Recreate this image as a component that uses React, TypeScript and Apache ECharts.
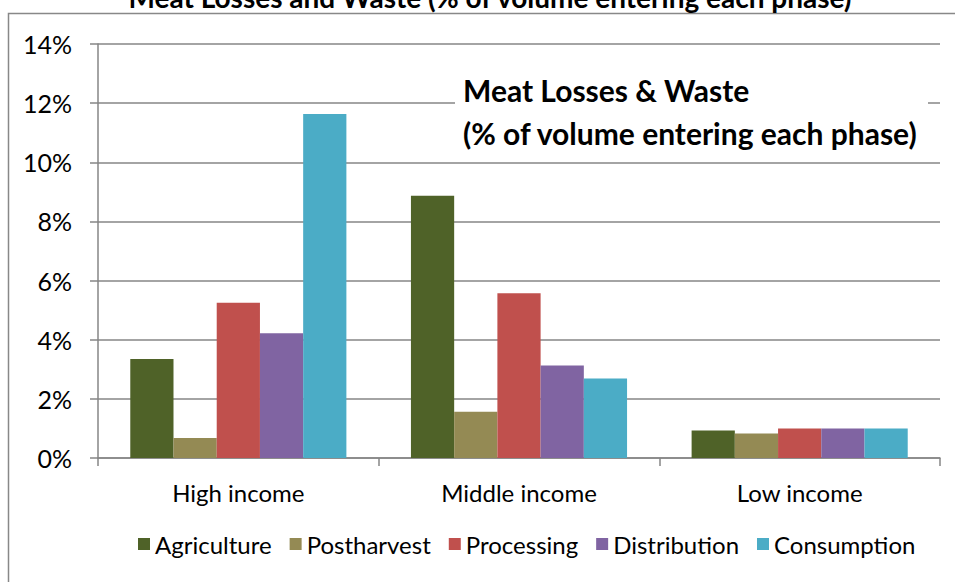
import React, { useEffect, useRef } from "react";
import * as echarts from "echarts";

const categories = ["High income", "Middle income", "Low income"];
const seriesNames = ["Agriculture", "Postharvest", "Processing", "Distribution", "Consumption"];
const agriculture = [3.35, 8.87, 0.93];
const postharvest = [0.68, 1.56, 0.83];
const processing = [5.25, 5.57, 1.0];
const distribution = [4.22, 3.13, 1.0];
const consumption = [11.63, 2.69, 1.0];
const colors = ["#4F6228", "#948A54", "#C0504D", "#8064A2", "#4BACC6"];
const yTicks = { min: 0, max: 14, interval: 2 };
const titleText = "Meat Losses and Waste (% of volume entering each phase)";
const noteLines = ["Meat Losses & Waste", "(% of volume entering each phase)"];

const FONT = "Lato, 'Open Sans', sans-serif";

export default function App() {
  const ref = useRef<HTMLDivElement>(null);
  useEffect(() => {
    if (!ref.current) return;
    const chart = echarts.init(ref.current, null, { renderer: "svg" });
    const values = [agriculture, postharvest, processing, distribution, consumption];
    chart.setOption({
      animation: false,
      textStyle: { fontFamily: FONT },
      grid: { left: 98, right: 15, top: 44, bottom: 124, containLabel: false },
      legend: {
        data: seriesNames,
        bottom: 21,
        left: 133,
        icon: "rect",
        itemWidth: 12,
        itemHeight: 12,
        itemGap: 18,
        textStyle: { fontSize: 24, color: "#000", fontFamily: FONT },
      },
      xAxis: {
        type: "category",
        data: categories,
        axisLine: { lineStyle: { color: "#868686", width: 1.5 } },
        axisTick: { show: true, length: 8, lineStyle: { color: "#868686", width: 1.5 } },
        axisLabel: { fontSize: 24, color: "#000", margin: 22, fontFamily: FONT },
      },
      yAxis: {
        type: "value",
        min: yTicks.min,
        max: yTicks.max,
        interval: yTicks.interval,
        axisLine: { show: true, lineStyle: { color: "#868686", width: 1.5 } },
        axisTick: { show: true, length: 8, lineStyle: { color: "#868686", width: 1.5 } },
        axisLabel: { fontSize: 25, color: "#000", margin: 26, formatter: "{value}%", fontFamily: FONT },
        splitLine: { show: true, lineStyle: { color: "#868686", width: 1.5 } },
      },
      series: seriesNames.map((name, i) => ({
        name,
        type: "bar",
        data: values[i],
        barGap: "0%",
        barCategoryGap: "23%",
        itemStyle: { color: colors[i] },
      })),
      graphic: [
        {
          type: "rect",
          shape: { x: 8.5, y: 13.5, width: 1000, height: 700 },
          style: { fill: "none", stroke: "#888888", lineWidth: 1.5 },
          silent: true,
          z: 0,
        },
        {
          type: "text",
          x: 490,
          y: 11,
          style: {
            text: titleText,
            fontSize: 28,
            fontWeight: "bold",
            fontFamily: FONT,
            fill: "#000",
            textAlign: "center",
            textVerticalAlign: "bottom",
          },
          z: 10,
        },
        {
          type: "rect",
          shape: { x: 455, y: 68, width: 473, height: 84 },
          style: { fill: "#ffffff" },
          z: 10,
        },
        {
          type: "text",
          x: 463,
          y: 90,
          style: {
            text: noteLines[0],
            fontSize: 30,
            fontWeight: "bold",
            fontFamily: FONT,
            fill: "#000",
            textAlign: "left",
            textVerticalAlign: "middle",
          },
          z: 11,
        },
        {
          type: "text",
          x: 463,
          y: 133,
          style: {
            text: noteLines[1],
            fontSize: 30,
            fontWeight: "bold",
            fontFamily: FONT,
            fill: "#000",
            textAlign: "left",
            textVerticalAlign: "middle",
          },
          z: 11,
        },
      ],
    });
    return () => chart.dispose();
  }, []);
  return <div ref={ref} style={{ width: 955, height: 582, position: "absolute", left: 0, top: 0 }} />;
}
